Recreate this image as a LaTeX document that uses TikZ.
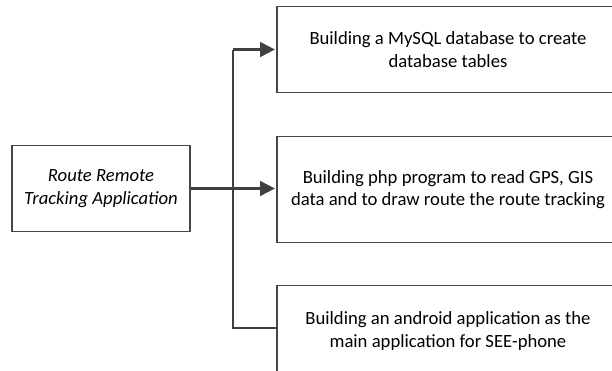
\documentclass[tikz,border=0pt]{standalone}
\usepackage{fontspec}
\setmainfont{Carlito}
\usetikzlibrary{arrows.meta}
\definecolor{edge}{RGB}{64,64,64}
\definecolor{boxline}{RGB}{70,70,70}
\tikzset{
  px/.style={x=0.75pt,y=-0.75pt},
  box/.style={draw=boxline,line width=0.8pt,rectangle,align=center,inner sep=0pt,
    font=\fontsize{14pt}{17pt}\selectfont},
  conn/.style={draw=edge,line width=1.6pt},
  arr/.style={-{Triangle[length=11pt,width=11pt]},shorten >=1.2pt}
}
\begin{document}
\begin{tikzpicture}[px]
\clip (0,0) rectangle (612,371);
\fill[white] (0,0) rectangle (612,371);
\node[box,minimum width=133.5pt,minimum height=65pt,font=\fontsize{14pt}{17pt}\selectfont\itshape] (app) at (101,188.5) {Route Remote\\Tracking Application};
\node[box,minimum width=256.5pt,minimum height=64pt] (b1) at (448,49.5) {Building a MySQL database to create\\database tables};
\node[box,minimum width=256.5pt,minimum height=80pt] (b2) at (448,189.5) {Building php program to read GPS, GIS\\data and to draw route the route tracking};
\node[box,minimum width=256.5pt,minimum height=68pt] (b3) at (448,331) {Building an android application as the\\main application for SEE-phone};
\coordinate (j1) at (233,49.5);
\coordinate (j3) at (233,328);
\draw[conn] (j1) -- (j3) -- (j3 -| b3.west);
\draw[conn,arr] (j1) -- (b1.west);
\draw[conn,arr] (app.east) -- (app.east -| b2.west);
\end{tikzpicture}
\end{document}
